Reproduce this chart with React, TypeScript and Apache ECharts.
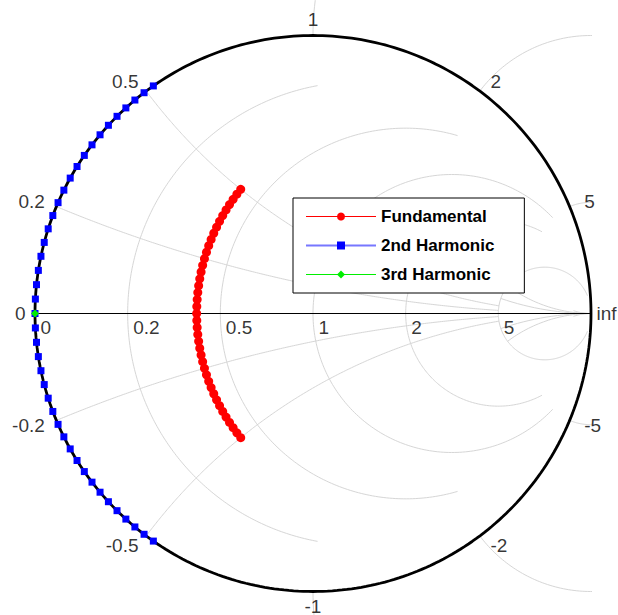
import React, { useEffect, useRef } from "react";
import * as echarts from "echarts";

// ---- data (normalized impedance z = r + jx) ----
const fundamentalResistance = 0.41;
const fundamentalReactance = [
  -0.5, -0.475, -0.45, -0.425, -0.4, -0.375, -0.35, -0.325, -0.3, -0.275,
  -0.25, -0.225, -0.2, -0.175, -0.15, -0.125, -0.1, -0.075, -0.05, -0.025,
  0, 0.025, 0.05, 0.075, 0.1, 0.125, 0.15, 0.175, 0.2, 0.225,
  0.25, 0.275, 0.3, 0.325, 0.35, 0.375, 0.4, 0.425, 0.45, 0.475, 0.5,
];
const secondResistance = 0;
const secondReactance = [
  -0.52, -0.494, -0.468, -0.442, -0.416, -0.39, -0.364, -0.338, -0.312, -0.286,
  -0.26, -0.234, -0.208, -0.182, -0.156, -0.13, -0.104, -0.078, -0.052, -0.026,
  0, 0.026, 0.052, 0.078, 0.104, 0.13, 0.156, 0.182, 0.208, 0.234,
  0.26, 0.286, 0.312, 0.338, 0.364, 0.39, 0.416, 0.442, 0.468, 0.494, 0.52,
];
const thirdResistance = 0;
const thirdReactance = [0];

// ---- grid values ----
const resistanceGrid = [0.2, 0.5, 1, 2, 5];
const resistanceGridEnd = [1, 2, 5, 5, 30];
const reactanceGrid = [0.2, 0.5, 1, 2, 5];
const reactanceGridEnd = [5, 5, 5, 5, 30];

// ---- tick labels ----
const resistanceLabelValues = [0, 0.2, 0.5, 1, 2, 5];
const resistanceLabels = ["0", "0.2", "0.5", "1", "2", "5"];
const reactanceLabelValues = [0.2, 0.5, 1, 2, 5, -0.2, -0.5, -1, -2, -5];
const reactanceLabels = ["0.2", "0.5", "1", "2", "5", "-0.2", "-0.5", "-1", "-2", "-5"];
const leftLabel = "0";
const rightLabel = "inf";

const FONT = "'Liberation Sans', Arial, Helvetica, sans-serif";
const GRID_COLOR = "#d6d6d6";

function gamma(r: number, x: number): [number, number] {
  const den = (r + 1) * (r + 1) + x * x;
  return [(r * r + x * x - 1) / den, (2 * x) / den];
}

function resistanceArc(r: number, lim: number): number[][] {
  const c = r / (1 + r);
  const rho = 1 / (1 + r);
  const e = gamma(r, lim);
  const phiL = Math.atan2(e[1], e[0] - c);
  const pts: number[][] = [];
  const N = 240;
  for (let i = 0; i <= N; i++) {
    const phi = phiL + ((2 * Math.PI - 2 * phiL) * i) / N;
    pts.push([c + rho * Math.cos(phi), rho * Math.sin(phi)]);
  }
  return pts;
}

function reactanceArc(x: number, lim: number): number[][] {
  const ax = Math.abs(x);
  const cy = 1 / ax;
  const rad = 1 / ax;
  const s = gamma(0, ax);
  const e = gamma(lim, ax);
  const t0 = Math.atan2(s[1] - cy, s[0] - 1);
  const t1 = Math.atan2(e[1] - cy, e[0] - 1);
  const pts: number[][] = [];
  const N = 240;
  const sign = x < 0 ? -1 : 1;
  for (let i = 0; i <= N; i++) {
    const t = t0 + ((t1 - t0) * i) / N;
    pts.push([1 + rad * Math.cos(t), sign * (cy + rad * Math.sin(t))]);
  }
  return pts;
}

function lineSeries(data: number[][], color: string, width: number, z: number) {
  return {
    type: "line",
    data,
    showSymbol: false,
    symbol: "none",
    silent: true,
    clip: false,
    z,
    lineStyle: { color, width },
    emphasis: { disabled: true },
    tooltip: { show: false },
  };
}

export default function App() {
  const ref = useRef<HTMLDivElement>(null);

  useEffect(() => {
    document.body.style.margin = "0";
    if (!ref.current) return;
    const chart = echarts.init(ref.current, undefined, { renderer: "svg" });

    const series: any[] = [];

    // grid lines
    resistanceGrid.forEach((r, i) => {
      series.push(lineSeries(resistanceArc(r, resistanceGridEnd[i]), GRID_COLOR, 1, 1));
    });
    reactanceGrid.forEach((x, i) => {
      series.push(lineSeries(reactanceArc(x, reactanceGridEnd[i]), GRID_COLOR, 1, 1));
      series.push(lineSeries(reactanceArc(-x, reactanceGridEnd[i]), GRID_COLOR, 1, 1));
    });

    // outer circle
    const outer: number[][] = [];
    for (let i = 0; i <= 360; i++) {
      const a = (i * Math.PI) / 180;
      outer.push([Math.cos(a), Math.sin(a)]);
    }
    series.push(lineSeries(outer, "#000000", 2.8, 3));
    // real axis
    series.push(lineSeries([[-1, 0], [1, 0]], "#000000", 1, 3));
    series.push(lineSeries([[1, -0.022], [1, 0.022]], "#000000", 1, 3));

    // data series
    const dataSeries = (
      name: string,
      r: number,
      xs: number[],
      symbol: string,
      size: number,
      color: string
    ) => ({
      name,
      type: "line",
      data: xs.map((x) => gamma(r, x)),
      symbol,
      symbolSize: size,
      showSymbol: true,
      clip: false,
      z: 5,
      itemStyle: { color, borderWidth: 0 },
      lineStyle: { color, width: 0 },
      emphasis: { disabled: true },
      silent: true,
    });
    series.push(dataSeries("Fundamental", fundamentalResistance, fundamentalReactance, "circle", 9, "#ff0000"));
    series.push(dataSeries("2nd Harmonic", secondResistance, secondReactance, "rect", 7, "#0000ff"));
    series.push(dataSeries("3rd Harmonic", thirdResistance, thirdReactance, "diamond", 8, "#00ee00"));

    // labels
    const labelBase = { show: true, fontFamily: FONT, fontSize: 19, color: "#000", lineHeight: 16 };
    const labelItems: any[] = [];
    resistanceLabelValues.forEach((r, i) => {
      labelItems.push({
        value: gamma(r, 0),
        label: { ...labelBase, formatter: resistanceLabels[i], position: [6, 6], align: "left", verticalAlign: "top" },
      });
    });
    reactanceLabelValues.forEach((x, i) => {
      const b = gamma(0, x);
      if (Math.abs(x) === 1) {
        labelItems.push({
          value: b,
          label: { ...labelBase, formatter: reactanceLabels[i], position: x > 0 ? "top" : "bottom", distance: x > 0 ? 8 : 6 },
        });
      } else {
        const k = 1.043;
        labelItems.push({
          value: [b[0] * k, b[1] * k],
          label: {
            ...labelBase,
            formatter: reactanceLabels[i],
            position: b[0] < 0 ? "left" : "right",
            distance: b[0] < 0 ? 0 : 3,
          },
        });
      }
    });
    labelItems.push({ value: [-1, 0], label: { ...labelBase, formatter: leftLabel, position: "left", distance: 9 } });
    labelItems.push({ value: [1, 0], label: { ...labelBase, formatter: rightLabel, position: "right", distance: 5 } });
    series.push({
      type: "scatter",
      data: labelItems,
      symbolSize: 1,
      itemStyle: { color: "rgba(0,0,0,0)" },
      silent: true,
      clip: false,
      z: 6,
      emphasis: { disabled: true },
    });

    chart.setOption({
      animation: false,
      backgroundColor: "#ffffff",
      grid: { left: 35, top: 35.5, width: 556, height: 556 },
      xAxis: { type: "value", min: -1, max: 1, show: false },
      yAxis: { type: "value", min: -1, max: 1, show: false },
      legend: {
        orient: "vertical",
        left: 293,
        top: 198,
        selectedMode: false,
        backgroundColor: "#ffffff",
        borderColor: "#000000",
        borderWidth: 1,
        borderRadius: 0,
        padding: [10, 30, 10, 12],
        itemGap: 12,
        itemWidth: 70,
        itemHeight: 10,
        textStyle: { fontFamily: FONT, fontSize: 17, fontWeight: "bold", color: "#000" },
        data: [
          { name: "Fundamental", lineStyle: { width: 1, color: "#ff0000", opacity: 1 } },
          { name: "2nd Harmonic", lineStyle: { width: 2, color: "#7777ff", opacity: 1 } },
          { name: "3rd Harmonic", lineStyle: { width: 1, color: "#00ee00", opacity: 1 } },
        ],
      },
      series,
    });

    return () => {
      chart.dispose();
    };
  }, []);

  return <div ref={ref} style={{ width: 618, height: 615 }} />;
}
